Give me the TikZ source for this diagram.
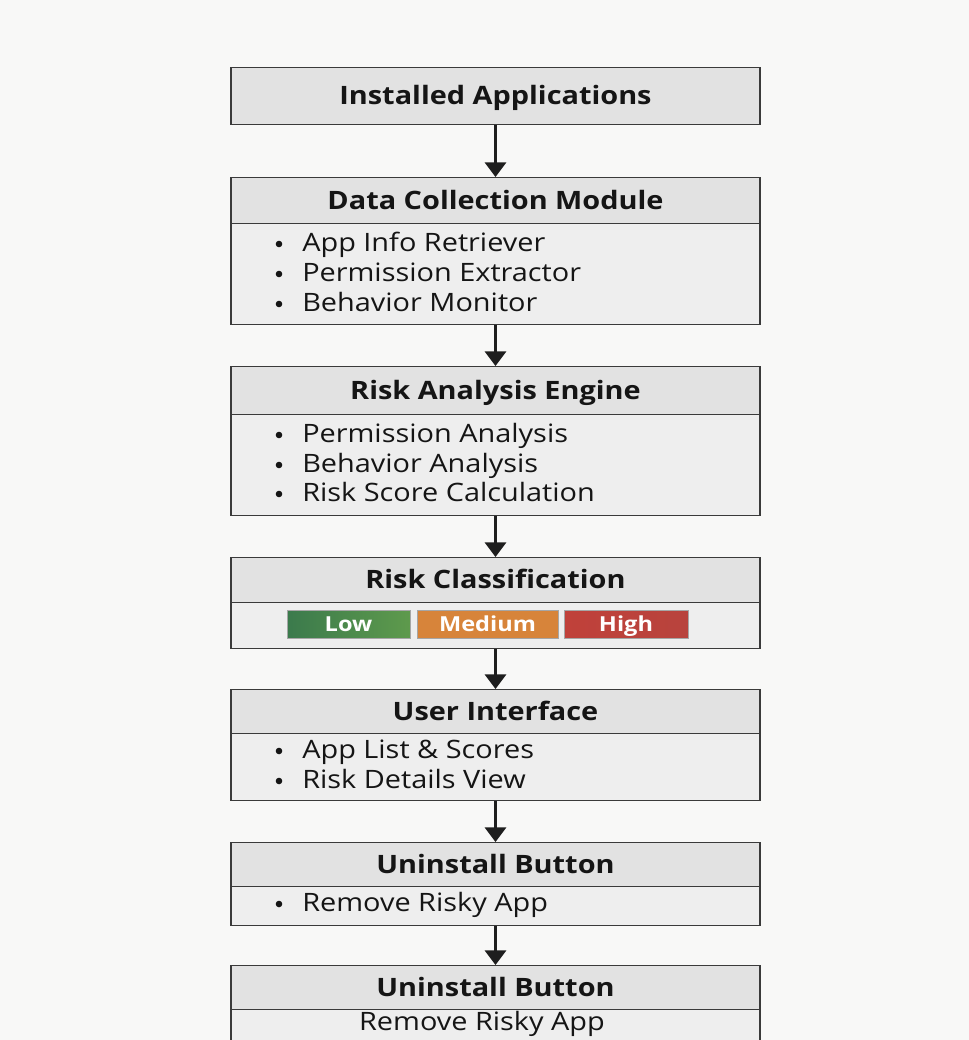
\documentclass[tikz,border=0pt]{standalone}
\usepackage{fontspec}
\setmainfont{Open Sans}[FakeStretch=1.14]
\usetikzlibrary{arrows.meta}
\definecolor{bgc}{HTML}{F8F8F7}
\definecolor{linec}{HTML}{3A3A3A}
\definecolor{hdrc}{HTML}{E2E2E2}
\definecolor{bdyc}{HTML}{EEEEEE}
\definecolor{txtc}{HTML}{151515}
\definecolor{arrc}{HTML}{1E1E1E}
\definecolor{lowa}{HTML}{3B7A4C}
\definecolor{lowb}{HTML}{5E9A4C}
\definecolor{medc}{HTML}{D7843A}
\definecolor{higha}{HTML}{C0413A}
\definecolor{highb}{HTML}{B8433D}
\tikzset{
  hdr/.style={draw=linec, line width=1.1pt, fill=hdrc, minimum width=396.75pt, inner sep=0pt, anchor=north, text height=13pt, text depth=0.5pt, font=\bfseries\fontsize{19}{22}\selectfont, text=txtc},
  bdy/.style={draw=linec, line width=1.1pt, fill=bdyc, minimum width=396.75pt, inner sep=0pt, anchor=north},
  itm/.style={anchor=west, inner sep=0pt, text height=13pt, text depth=0.5pt, font=\fontsize{19}{22}\selectfont, text=txtc},
  dot/.style={fill=txtc},
  flowarr/.style={-{Triangle[width=16pt,length=11pt]}, line width=1.9pt, draw=arrc},
  badge/.style={draw=black!35, line width=0.5pt, inner sep=0pt, minimum height=21pt, text height=10.5pt, text depth=0.5pt, text=white, font=\bfseries\fontsize{15.5}{18}\selectfont}
}
\newcommand{\itemrow}[3]{%
  \node[itm] (#1) at (302,#2) {#3};
  \fill[dot] (279,#2+1) circle (3.3);
}
\begin{document}
\begin{tikzpicture}[x=0.75pt,y=-0.75pt]
\fill[bgc] (0,0) rectangle (969,1040);
\useasboundingbox (0,0) rectangle (969,1040);
\clip (0,0) rectangle (969,1040);

% Box 1
\node[hdr, minimum height=42.75pt] (h1) at (495.5,67) {Installed Applications};

% Box 2
\node[hdr, minimum height=34.5pt] (h2) at (495.5,177) {Data Collection Module};
\node[bdy, minimum height=75.75pt] (b2) at (495.5,223) {};
\itemrow{i21}{243}{App Info Retriever}
\itemrow{i22}{273}{Permission Extractor}
\itemrow{i23}{303}{Behavior Monitor}

% Box 3
\node[hdr, minimum height=36pt] (h3) at (495.5,366) {Risk Analysis Engine};
\node[bdy, minimum height=75.75pt] (b3) at (495.5,414) {};
\itemrow{i31}{434}{Permission Analysis}
\itemrow{i32}{464}{Behavior Analysis}
\itemrow{i33}{493}{Risk Score Calculation}

% Box 4
\node[hdr, minimum height=33.75pt] (h4) at (495.5,557) {Risk Classification};
\node[bdy, minimum height=34.5pt] (b4) at (495.5,602) {};
\node[badge, minimum width=92.25pt, left color=lowa, right color=lowb] (low) at (348.5,624.5) {Low};
\node[badge, minimum width=105.75pt, fill=medc] (med) at (487.5,624.5) {Medium};
\node[badge, minimum width=93pt, left color=higha, right color=highb] (high) at (626,624.5) {High};

% Box 5
\node[hdr, minimum height=33pt] (h5) at (495.5,689) {User Interface};
\node[bdy, minimum height=50.25pt] (b5) at (495.5,733) {};
\itemrow{i51}{750}{App List \& Scores}
\itemrow{i52}{780}{Risk Details View}

% Box 6
\node[hdr, minimum height=33pt] (h6) at (495.5,842) {Uninstall Button};
\node[bdy, minimum height=29.25pt] (b6) at (495.5,886) {};
\itemrow{i61}{903}{Remove Risky App}

% Box 7
\node[hdr, minimum height=33pt] (h7) at (495.5,965) {Uninstall Button};
\node[bdy, minimum height=36pt] (b7) at (495.5,1009) {};
\node[inner sep=0pt, text height=13pt, text depth=0.5pt, font=\fontsize{19}{22}\selectfont, text=txtc] (t7) at (482,1022) {Remove Risky App};

% Arrows
\draw[flowarr] (h1.south) -- (h2.north);
\draw[flowarr] (b2.south) -- (h3.north);
\draw[flowarr] (b3.south) -- (h4.north);
\draw[flowarr] (b4.south) -- (h5.north);
\draw[flowarr] (b5.south) -- (h6.north);
\draw[flowarr] (b6.south) -- (h7.north);
\end{tikzpicture}
\end{document}
